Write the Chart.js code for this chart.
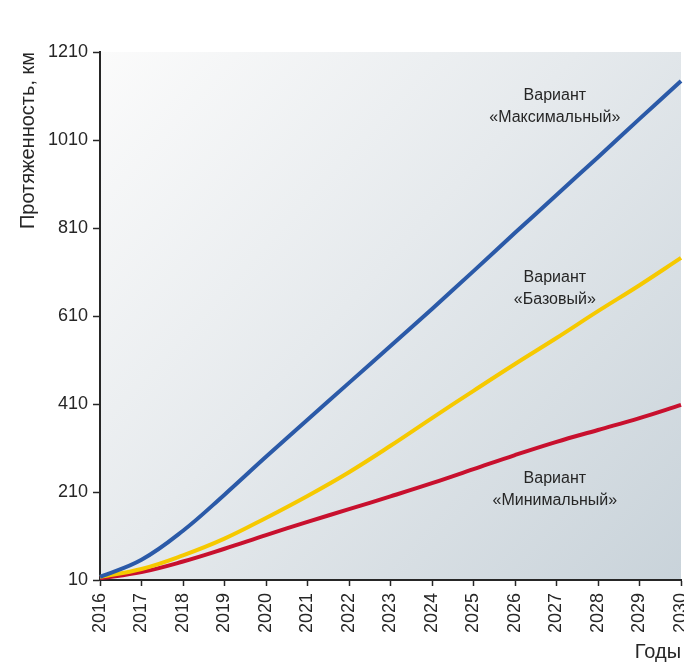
<!DOCTYPE html>
<html lang="ru">
<head>
<meta charset="utf-8">
<title>Протяженность, км</title>
<script src="https://cdn.jsdelivr.net/npm/chart.js@4/dist/chart.umd.min.js"></script>
<style>
  html, body { margin: 0; padding: 0; background: #ffffff; }
  #wrap { width: 684px; height: 664px; position: relative; }
</style>
</head>
<body>
<div id="wrap"><canvas id="chart" width="684" height="664"></canvas></div>
<script>
// Years on the horizontal axis
const years = ['2016', '2017', '2018', '2019', '2020', '2021', '2022', '2023',
               '2024', '2025', '2026', '2027', '2028', '2029', '2030'];

// Length, km, per scenario
const maxVariant  = [17, 56, 122, 204, 290, 374, 458, 542, 626, 712, 799, 885, 971, 1058, 1144];
const baseVariant = [17, 35, 66, 104, 151, 201, 255, 315, 378, 440, 501, 560, 621, 680, 742];
const minVariant  = [14, 28, 52, 81, 112, 142, 171, 200, 230, 262, 294, 324, 351, 378, 408];

// Vertical axis tick values
const yTicks = [10, 210, 410, 610, 810, 1010, 1210];

// Scenario captions: text lines and anchor (year index, km)
const captions = [
  { lines: ['Вариант', '«Максимальный»'], at: [10.96, 1110], step: 50 },
  { lines: ['Вариант', '«Базовый»'],      at: [10.96, 698],  step: 50 },
  { lines: ['Вариант', '«Минимальный»'],  at: [10.96, 240],  step: 50 }
];

const FONT = "'Liberation Sans', Arial, Helvetica, sans-serif";
const INK = '#262626';

// Diagonal light-to-steel gradient behind the plot
const plotBackground = {
  id: 'plotBackground',
  beforeDraw(chart) {
    const { ctx, chartArea: a } = chart;
    const g = ctx.createLinearGradient(a.left, a.top, a.right, a.bottom);
    g.addColorStop(0, '#fbfbfb');
    g.addColorStop(0.45, '#e6eaed');
    g.addColorStop(1, '#c9d3da');
    ctx.save();
    ctx.fillStyle = g;
    ctx.fillRect(a.left, a.top, a.right - a.left, a.bottom - a.top);
    ctx.restore();
  }
};

// Two-line scenario captions placed in data coordinates
const scenarioCaptions = {
  id: 'scenarioCaptions',
  afterDatasetsDraw(chart) {
    const { ctx, scales: { x, y } } = chart;
    ctx.save();
    ctx.font = '16px ' + FONT;
    ctx.fillStyle = INK;
    ctx.textAlign = 'center';
    ctx.textBaseline = 'middle';
    captions.forEach(c => {
      const px = x.getPixelForValue(c.at[0]);
      c.lines.forEach((line, i) => {
        ctx.fillText(line, px, y.getPixelForValue(c.at[1] - i * c.step));
      });
    });
    ctx.restore();
  }
};

const line = (data, color) => ({
  data,
  borderColor: color,
  backgroundColor: color,
  borderWidth: 4,
  pointRadius: 0,
  pointHoverRadius: 0,
  fill: false,
  tension: 0.4
});

new Chart(document.getElementById('chart'), {
  type: 'line',
  data: {
    labels: years,
    datasets: [
      line(maxVariant, '#2b5aa8'),
      line(baseVariant, '#f6c900'),
      line(minVariant, '#c8102e')
    ]
  },
  options: {
    responsive: false,
    animation: false,
    layout: { padding: { top: 52, right: 3, bottom: 0, left: 0 } },
    plugins: {
      legend: { display: false },
      tooltip: { enabled: false }
    },
    scales: {
      x: {
        type: 'category',
        offset: false,
        grid: {
          display: true,
          drawOnChartArea: false,
          drawTicks: true,
          tickLength: 6,
          tickWidth: 1.5,
          tickColor: INK
        },
        border: { display: true, color: INK, width: 2 },
        ticks: {
          autoSkip: false,
          minRotation: 90,
          maxRotation: 90,
          padding: 7,
          color: INK,
          font: { family: FONT, size: 18 }
        },
        title: {
          display: true,
          text: 'Годы',
          align: 'end',
          color: INK,
          padding: { top: 0, bottom: 0 },
          font: { family: FONT, size: 20 }
        },
        afterFit(scale) {
          scale.height = 84;
          scale.paddingLeft = 0;
          scale.paddingRight = 0;
        }
      },
      y: {
        type: 'linear',
        min: 10,
        max: 1210,
        grid: {
          display: true,
          drawOnChartArea: false,
          drawTicks: true,
          tickLength: 7,
          tickWidth: 1.5,
          tickColor: INK
        },
        border: { display: true, color: INK, width: 2 },
        afterBuildTicks(scale) {
          scale.ticks = yTicks.map(v => ({ value: v }));
        },
        ticks: {
          padding: 5,
          color: INK,
          font: { family: FONT, size: 18 },
          callback: v => String(v)
        },
        title: {
          display: true,
          text: 'Протяженность, км',
          align: 'end',
          color: INK,
          padding: { top: 16, bottom: 0 },
          font: { family: FONT, size: 20 }
        },
        afterFit(scale) {
          scale.width = 100;
        }
      }
    }
  },
  plugins: [plotBackground, scenarioCaptions]
});
</script>
</body>
</html>
